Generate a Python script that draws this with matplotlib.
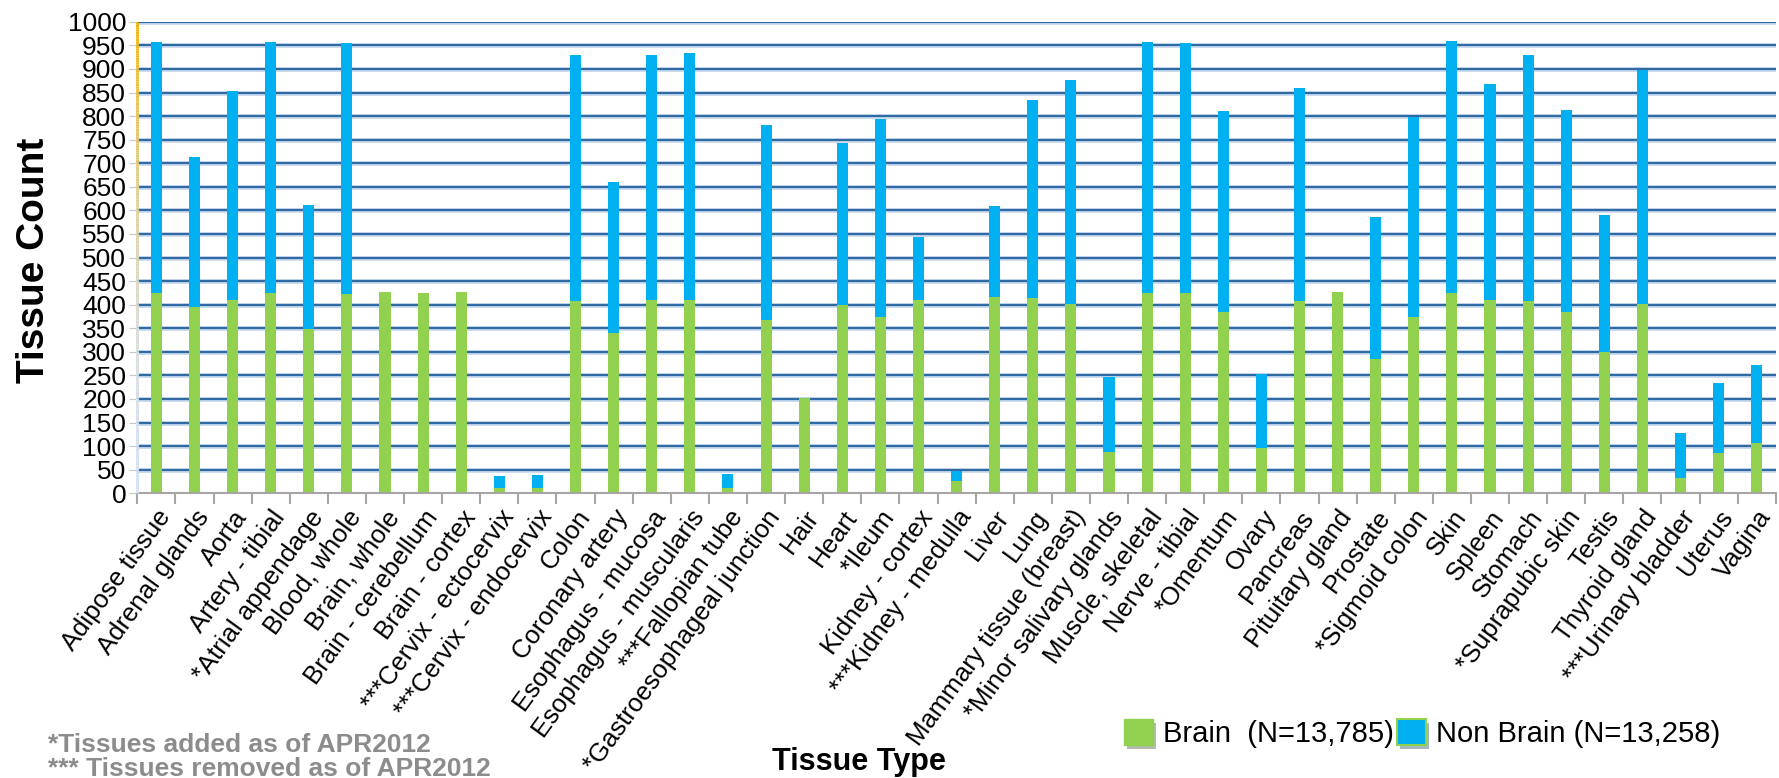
import matplotlib
matplotlib.use("Agg")
import matplotlib.pyplot as plt
from matplotlib import font_manager
from matplotlib.patches import Patch
from matplotlib.collections import LineCollection
import matplotlib.patheffects as pe
import numpy as np

categories = [
    "Adipose tissue", "Adrenal glands", "Aorta", "Artery - tibial", "*Atrial appendage",
    "Blood, whole", "Brain, whole", "Brain - cerebellum", "Brain - cortex",
    "***Cervix - ectocervix", "***Cervix - endocervix", "Colon", "Coronary artery",
    "Esophagus - mucosa", "Esophagus - muscularis", "***Fallopian tube",
    "*Gastroesophageal junction", "Hair", "Heart", "*Ileum", "Kidney - cortex",
    "***Kidney - medulla", "Liver", "Lung", "Mammary tissue (breast)",
    "*Minor salivary glands", "Muscle, skeletal", "Nerve - tibial", "*Omentum", "Ovary",
    "Pancreas", "Pituitary gland", "Prostate", "*Sigmoid colon", "Skin", "Spleen",
    "Stomach", "*Suprapubic skin", "Testis", "Thyroid gland", "***Urinary bladder",
    "Uterus", "Vagina",
]
brain = [425, 394, 409, 425, 349, 423, 426, 425, 427, 11, 11, 407, 340, 409, 409, 11,
         368, 202, 399, 373, 409, 27, 417, 415, 401, 88, 425, 425, 384, 96, 407, 427,
         285, 373, 425, 409, 407, 384, 299, 401, 33, 86, 107]
totals = [957, 713, 853, 957, 611, 954, 426, 425, 427, 36, 39, 930, 660, 930, 933, 40,
          782, 202, 743, 793, 544, 48, 609, 834, 877, 246, 957, 954, 810, 252, 859, 427,
          586, 797, 960, 869, 930, 813, 591, 898, 128, 234, 273]
non_brain = [t - b for t, b in zip(totals, brain)]
yticks = list(range(0, 1001, 50))

legend_labels = ["Brain  (N=13,785)", "Non Brain (N=13,258)"]
footnotes = ["*Tissues added as of APR2012", "*** Tissues removed as of APR2012"]


def has_font(name):
    try:
        font_manager.findfont(font_manager.FontProperties(family=name), fallback_to_default=False)
        return True
    except Exception:
        return False

base = "Liberation Sans" if has_font("Liberation Sans") else "DejaVu Sans"
narrow = "Liberation Sans Narrow" if has_font("Liberation Sans Narrow") else base
plt.rcParams['font.family'] = [base, 'DejaVu Sans']

GREEN = "#92D050"
BLUE = "#00B0F0"

fig = plt.figure(figsize=(17.79, 7.78), dpi=100)
ax = fig.add_axes([0.0772, 0.366, 0.921, 0.606])

x = np.arange(len(categories))
ax.bar(x, brain, width=0.29, color=GREEN, zorder=3)
ax.bar(x, non_brain, width=0.29, bottom=brain, color=BLUE, zorder=3)

ax.set_xlim(-0.5, len(categories) - 0.5)
ax.set_ylim(0, 1000)
ax.set_yticks(yticks)
ax.set_yticklabels([str(v) for v in yticks], fontsize=19, family=[narrow, 'DejaVu Sans'])
ax.tick_params(axis='y', length=6, color='#c8c8c8', pad=2)

# gridlines
for v in yticks[1:]:
    ax.axhline(v, color='#2F6AA3', lw=1.5, zorder=1,
               path_effects=[pe.withStroke(linewidth=3.4, foreground='#c4d8ee'), pe.Normal()])

for s in ['top', 'right', 'left']:
    ax.spines[s].set_visible(False)
ax.spines['bottom'].set_color('#a6a6a6')
ax.spines['bottom'].set_linewidth(1.5)
ax.spines['bottom'].set_zorder(4)

# gradient left spine
ys = np.linspace(0, 1000, 200)
segs = [[(-0.5, ys[i]), (-0.5, ys[i + 1])] for i in range(len(ys) - 1)]
c_bot = np.array(matplotlib.colors.to_rgb('#d4e0f2'))
c_top = np.array(matplotlib.colors.to_rgb('#F2B400'))
cols = []
for i in range(len(ys) - 1):
    t = (ys[i] / 1000.0) ** 2.0
    cols.append(c_bot * (1 - t) + c_top * t)
lc = LineCollection(segs, colors=cols, linewidths=2.2, zorder=5, clip_on=False)
ax.add_collection(lc)

# x ticks: labels at bars, marks at boundaries
ax.set_xticks(x)
ax.set_xticklabels(categories, rotation=54, ha='right', rotation_mode='anchor', fontsize=18.5)
ax.tick_params(axis='x', length=0, pad=9)
ax.set_xticks(np.arange(-0.5, len(categories), 1.0), minor=True)
ax.tick_params(axis='x', which='minor', length=8, color='#a6a6a6', width=1.5)

fig.text(0.019, 0.665, "Tissue Count", rotation=90, ha='center', va='center',
         fontsize=28, fontweight='bold')
fig.text(0.483, 0.0204, "Tissue Type", ha='center', va='center', fontsize=22,
         fontweight='bold', family=[narrow, 'DejaVu Sans'])

fig.text(0.0268, 0.042, footnotes[0], ha='left', va='center', fontsize=19,
         fontweight='bold', color='#8c8c8c', family=[narrow, 'DejaVu Sans'])
fig.text(0.0268, 0.011, footnotes[1], ha='left', va='center', fontsize=19,
         fontweight='bold', color='#8c8c8c', family=[narrow, 'DejaVu Sans'])

shadow = [pe.SimplePatchShadow(offset=(2, -3), alpha=0.35), pe.Normal()]
handles = [Patch(facecolor=GREEN, edgecolor=GREEN, path_effects=shadow),
           Patch(facecolor=BLUE, edgecolor=GREEN, linewidth=1.5, path_effects=shadow)]
fig.legend(handles, legend_labels, loc='center left', bbox_to_anchor=(0.617, 0.057),
           ncol=2, frameon=False, handlelength=1.0, handleheight=1.0, handletextpad=0.35,
           columnspacing=0.1, prop={'family': [narrow, 'DejaVu Sans'], 'size': 21})

fig.savefig("out.png", dpi=100)
